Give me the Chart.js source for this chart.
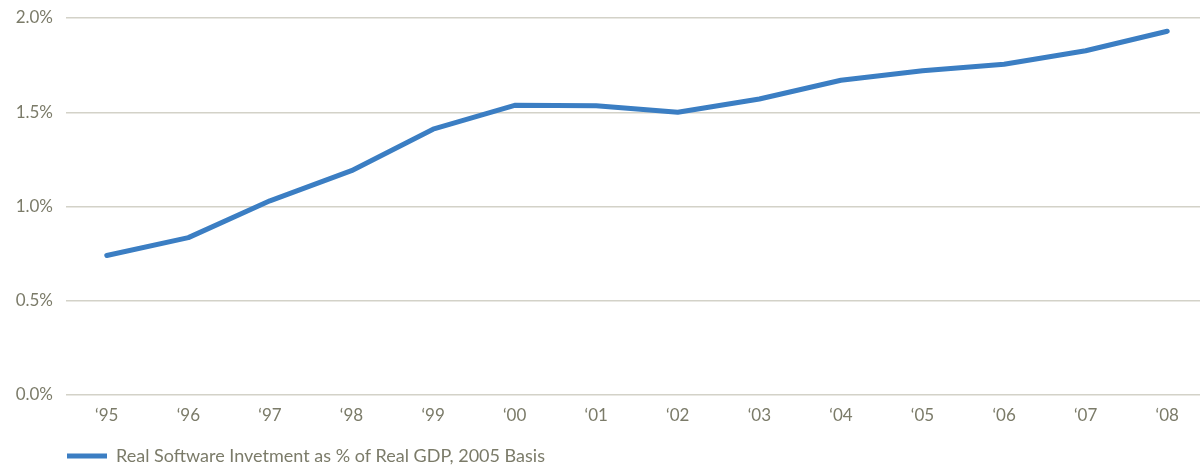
<!DOCTYPE html>
<html>
<head>
<meta charset="utf-8">
<script src="https://cdn.jsdelivr.net/npm/chart.js@4/dist/chart.umd.min.js"></script>
<style>
  html, body { margin: 0; padding: 0; background: #fff; overflow: hidden; }
  #wrap { width: 1208px; height: 466px; }
</style>
</head>
<body>
<div id="wrap"><canvas id="chart" width="1208" height="466"></canvas></div>
<script>
// -------------------------------
// DADOS
// -------------------------------
const years = ["\u201895", "\u201896", "\u201897", "\u201898", "\u201899", "\u201800", "\u201801",
  "\u201802", "\u201803", "\u201804", "\u201805", "\u201806", "\u201807", "\u201808"];
const softwareShare = [0.74, 0.835, 1.03, 1.19, 1.41, 1.537, 1.535, 1.50, 1.57, 1.67, 1.72, 1.755, 1.826, 1.93];
const yTicks = [0, 0.5, 1.0, 1.5, 2.0];
const seriesLabel = "Real Software Invetment as % of Real GDP, 2005 Basis";

const textColor = "#7b7b69";
const gridColor = "#d3d2c8";
const lineColor = "#3b7ec3";
const fontFamily = "Lato, 'Open Sans', sans-serif";

const ctx = document.getElementById("chart").getContext("2d");

new Chart(ctx, {
  type: "line",
  data: {
    labels: years,
    datasets: [{
      label: seriesLabel,
      data: softwareShare,
      borderColor: lineColor,
      backgroundColor: lineColor,
      borderWidth: 5,
      borderCapStyle: "round",
      borderJoinStyle: "round",
      pointRadius: 0,
      tension: 0
    }]
  },
  options: {
    responsive: false,
    animation: false,
    layout: { padding: { top: 18, left: 0, right: 0, bottom: -9 } },
    plugins: {
      tooltip: { enabled: false },
      legend: {
        position: "bottom",
        align: "start",
        fullSize: false,
        labels: {
          usePointStyle: true,
          pointStyle: "line",
          pointStyleWidth: 40,
          padding: 1,
          color: textColor,
          font: { family: fontFamily, size: 18 }
        }
      }
    },
    scales: {
      x: {
        offset: true,
        grid: { display: false, drawTicks: false },
        border: { display: false },
        ticks: {
          color: textColor,
          font: { family: fontFamily, size: 17 },
          padding: 10,
          maxRotation: 0
        },
        afterFit: (axis) => { axis.height = 51; }
      },
      y: {
        min: 0,
        max: 2,
        afterBuildTicks: (axis) => { axis.ticks = yTicks.map((v) => ({ value: v })); },
        grid: { color: gridColor, lineWidth: 1.5, drawTicks: false },
        border: { display: false },
        ticks: {
          color: textColor,
          font: { family: fontFamily, size: 17, lineHeight: 1 },
          padding: 13,
          callback: (v) => v.toFixed(1) + "%"
        },
        afterFit: (axis) => {
          axis.width = 66;
          axis.paddingTop = 0;
          axis.paddingBottom = 0;
        }
      }
    }
  }
});
</script>
</body>
</html>
